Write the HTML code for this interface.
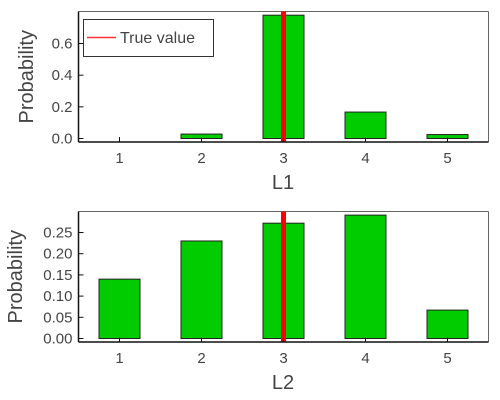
<!DOCTYPE html>
<html><head><meta charset="utf-8"><style>
body{margin:0;background:#fff}
svg{display:block;font-family:"Liberation Sans",sans-serif}
</style></head><body>
<svg id="chart" width="500" height="400"></svg>
<script>
const categories=[1,2,3,4,5];
const l1Values=[0,0.028,0.779,0.167,0.025];
const l2Values=[0.14,0.23,0.272,0.291,0.067];
const l1Ticks=[0,0.2,0.4,0.6];
const l1TickLabels=["0.0","0.2","0.4","0.6"];
const l2Ticks=[0,0.05,0.1,0.15,0.2,0.25];
const l2TickLabels=["0.00","0.05","0.10","0.15","0.20","0.25"];
const trueValue=3;
const NS="http://www.w3.org/2000/svg";
const svg=document.getElementById('chart');
function mk(tag,attrs,parent){const e=document.createElementNS(NS,tag);for(const k in attrs)e.setAttribute(k,attrs[k]);(parent||svg).appendChild(e);return e;}
function panel(cfg){
  const g=mk('g',{});
  
  
  const L=78.5,R=488.5,T=cfg.top,B=cfg.bottom,y0=cfg.y0;
  const xs=v=>L+(v-0.5)*82;
  const ys=v=>y0-v*cfg.k;
  mk('line',{x1:L,y1:T,x2:R,y2:T,stroke:'#666','stroke-width':1},g);
  mk('line',{x1:R,y1:T,x2:R,y2:B,stroke:'#666','stroke-width':1},g);
  cfg.values.forEach((v,i)=>{
    const x=xs(categories[i]);
    const r=mk('rect',{x:x-20.5,y:ys(v),width:41,height:y0-ys(v),fill:'#00cc00',stroke:'#222','stroke-width':1},g);
    
    
  });
  const tl=mk('line',{x1:xs(trueValue),y1:T,x2:xs(trueValue),y2:B,stroke:'#ff0000','stroke-width':5},g);
  
  
  mk('line',{x1:L,y1:T,x2:L,y2:B,stroke:'#111','stroke-width':1.5},g);
  mk('line',{x1:L,y1:B,x2:R,y2:B,stroke:'#111','stroke-width':1.5},g);
  categories.forEach(c=>{
    const x=xs(c);
    mk('line',{x1:x,y1:B,x2:x,y2:B-5,stroke:'#111'},g);
    const t=mk('text',{x:x,y:B+21,'text-anchor':'middle','font-size':15,fill:'#444'},g);
    t.textContent=c;
    
    
  });
  cfg.ticks.forEach((v,i)=>{
    const y=ys(v);
    mk('line',{x1:L,y1:y,x2:L+5,y2:y,stroke:'#111'},g);
    const t=mk('text',{x:L-6,y:y+5,'text-anchor':'end','font-size':15,fill:'#444'},g);
    t.textContent=cfg.tickLabels[i];
    
    
  });
  const xt=mk('text',{x:283,y:B+47,'text-anchor':'middle','font-size':20,fill:'#444'},g);
  xt.textContent=cfg.xlabel;
  
  
  const yt=mk('text',{x:0,y:0,'text-anchor':'middle','font-size':20,fill:'#444',transform:`translate(${cfg.ylx},${(T+B)/2}) rotate(-90)`},g);
  yt.textContent='Probability';
  
  
}
panel({name:'l1-panel',top:11.5,bottom:142,y0:138.5,k:158.3,values:l1Values,ticks:l1Ticks,tickLabels:l1TickLabels,xlabel:'L1',ylx:33});
panel({name:'l2-panel',top:211.5,bottom:342,y0:338.5,k:424,values:l2Values,ticks:l2Ticks,tickLabels:l2TickLabels,xlabel:'L2',ylx:22});
const lg=mk('g',{});


mk('rect',{x:83.5,y:19.5,width:130,height:37,fill:'#fff',stroke:'#333','stroke-width':1},lg);
mk('line',{x1:87,y1:37.5,x2:116,y2:37.5,stroke:'#ff3333','stroke-width':1.5},lg);
const lt=mk('text',{x:120,y:43,'font-size':16,fill:'#444'},lg);
lt.textContent='True value';


</script>
</body></html>
